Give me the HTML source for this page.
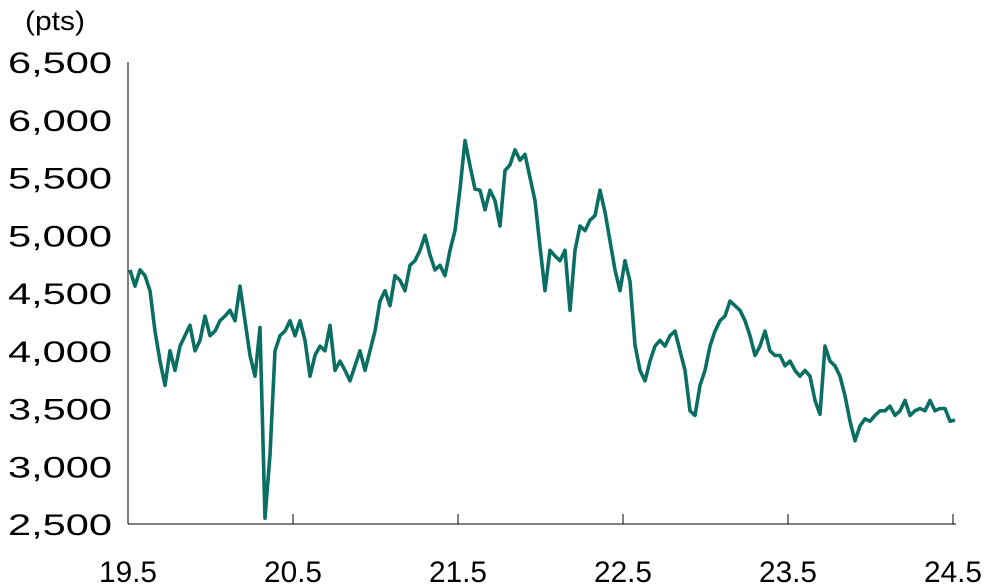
<!DOCTYPE html>
<html><head><meta charset="utf-8"><style>
html,body{margin:0;padding:0;background:#fff;}
svg{display:block;font-family:"Liberation Sans",sans-serif;}
</style></head><body>
<svg id="chart" width="984" height="588">
<text x="25" y="30" font-size="27" fill="#000" textLength="60" lengthAdjust="spacingAndGlyphs">(pts)</text>
<g id="yaxis"></g>
<g id="xaxis"></g>
<path id="line" fill="none" stroke="#0b6e62" stroke-width="3.6" stroke-linejoin="round"></path>
</svg>
<script>
const startYear = 19.5;
const stepYears = 5/165;
const values = [4700,4560,4700,4650,4520,4170,3910,3700,4000,3830,4040,4130,4220,4000,4090,4300,4130,4170,4260,4300,4350,4260,4560,4260,3960,3780,4200,2550,3100,4000,
4130,4170,4260,4130,4260,4090,3780,3960,4040,4000,4220,3830,3910,3830,3740,3870,4000,3830,4000,4170,4430,4520,4390,4650,4610,4520,4740,4780,4870,5000,
4830,4700,4740,4650,4870,5040,5400,5820,5600,5400,5390,5220,5390,5300,5080,5560,5610,5740,5650,5700,5500,5300,4900,4520,4870,4820,4780,4870,4350,4870,
5080,5040,5130,5170,5390,5200,4950,4700,4520,4780,4600,4050,3830,3740,3910,4040,4090,4040,4130,4170,4000,3830,3480,3440,3700,3830,4040,4170,4260,4300,
4430,4390,4350,4260,4130,3960,4040,4170,4000,3960,3960,3870,3910,3830,3780,3830,3780,3570,3450,4040,3910,3870,3780,3610,3390,3220,3350,3410,3390,3440,
3480,3480,3520,3440,3480,3570,3440,3480,3500,3480,3570,3480,3500,3500,3390,3400];
const yTicks = [2500,3000,3500,4000,4500,5000,5500,6000,6500];
const yTickLabels = ["2,500","3,000","3,500","4,000","4,500","5,000","5,500","6,000","6,500"];
const xTicks = [19.5,20.5,21.5,22.5,23.5,24.5];
const xTickLabels = ["19.5","20.5","21.5","22.5","23.5","24.5"];

const NS = "http://www.w3.org/2000/svg";
const X0 = 128, PXY = 165, Y0 = 524, Y1 = 62;
function xs(t){ return X0 + (t - 19.5) * PXY; }
function ys(v){ return Y0 - (v - 2500) / 4000 * (Y0 - Y1); }
function mk(tag, attrs, parent){ const e = document.createElementNS(NS, tag); for (const k in attrs) e.setAttribute(k, attrs[k]); parent.appendChild(e); return e; }

const ya = document.getElementById('yaxis');
const yl = mk('line', {x1:X0, y1:Y1, x2:X0, y2:Y0, stroke:'#000', 'stroke-width':1}, ya);


yTicks.forEach((v, i) => {
  const t = mk('text', {x:8, y:ys(v)+11, 'font-size':30, fill:'#000', textLength:104, lengthAdjust:'spacingAndGlyphs'}, ya);
  t.textContent = yTickLabels[i];
  
  
});
const xa = document.getElementById('xaxis');
const xl = mk('line', {x1:X0, y1:Y0, x2:956, y2:Y0, stroke:'#000', 'stroke-width':1}, xa);


xTicks.forEach((v, i) => {
  if (i > 0) {
    const tk = mk('line', {x1:xs(v), y1:Y0-10, x2:xs(v), y2:Y0, stroke:'#000', 'stroke-width':1}, xa);
    
    
  }
  const t = mk('text', {x:xs(v)-29, y:582, 'font-size':30, fill:'#000', textLength:58, lengthAdjust:'spacingAndGlyphs'}, xa);
  t.textContent = xTickLabels[i];
  
  
});
let d = '';
values.forEach((v, i) => { const t = startYear + (i + 0.4) * stepYears; d += (i ? 'L' : 'M') + xs(t).toFixed(1) + ',' + ys(v).toFixed(1); });
document.getElementById('line').setAttribute('d', d);
</script>
</body></html>
